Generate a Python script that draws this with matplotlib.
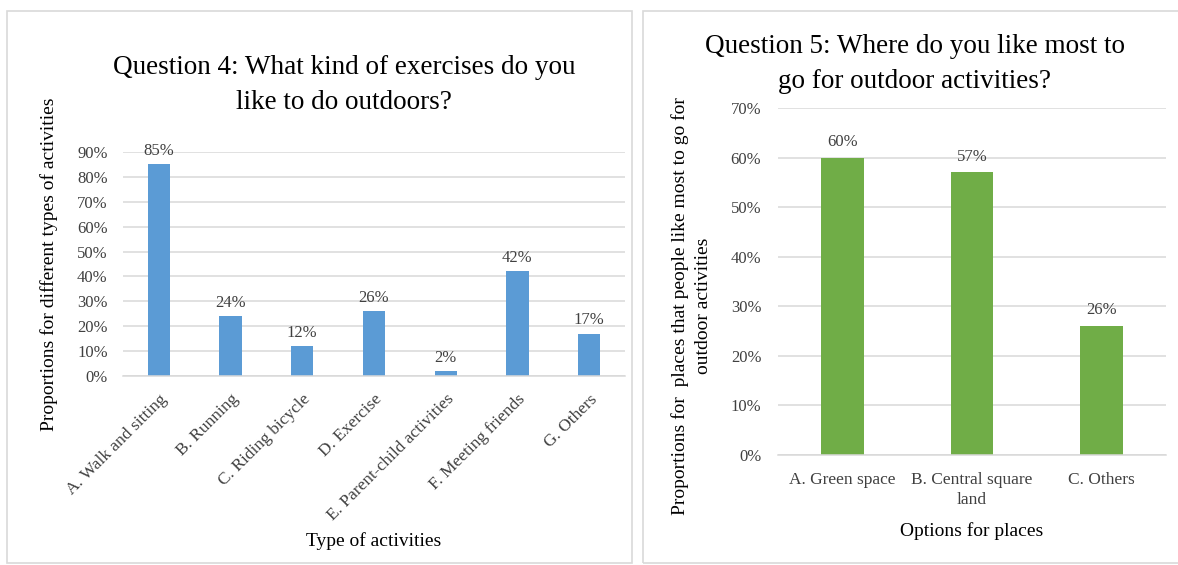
import matplotlib.pyplot as plt
from matplotlib.patches import Rectangle
from matplotlib.ticker import PercentFormatter

plt.rcParams["font.family"] = ["Liberation Serif", "DejaVu Serif"]

activities = ["A. Walk and sitting", "B. Running", "C. Riding bicycle", "D. Exercise",
              "E. Parent-child activities", "F. Meeting friends", "G. Others"]
activity_share = [85, 24, 12, 26, 2, 42, 17]

places = ["A. Green space", "B. Central square\nland", "C. Others"]
place_share = [60, 57, 26]

blue = "#5B9BD5"
green = "#70AD47"
grid_col = "#D9D9D9"
tick_col = "#404040"

fig = plt.figure(figsize=(11.78, 5.65), dpi=100)
W, H = 1178, 565


def frame(x0, y0, x1, y1):
    fig.patches.append(Rectangle((x0 / W, 1 - y1 / H), (x1 - x0) / W, (y1 - y0) / H,
                                 transform=fig.transFigure, fill=False,
                                 edgecolor=grid_col, linewidth=1.2))


def style(ax, top):
    ax.set_ylim(0, top)
    ax.yaxis.set_major_locator(plt.MultipleLocator(10))
    ax.yaxis.set_major_formatter(PercentFormatter(decimals=0))
    ax.grid(axis="y", color=grid_col, linewidth=1.1)
    ax.set_axisbelow(True)
    for s in ["top", "right", "left"]:
        ax.spines[s].set_visible(False)
    ax.spines["bottom"].set_color(grid_col)
    ax.spines["bottom"].set_linewidth(1.1)
    ax.tick_params(length=0, colors=tick_col, labelsize=12)


frame(7, 11, 632, 563)
frame(643, 11, 1185, 563)

# Question 4
ax1 = fig.add_axes([123 / W, 1 - 376 / H, (625 - 123) / W, (376 - 152) / H])
x1 = range(len(activities))
bars1 = ax1.bar(x1, activity_share, width=0.31, color=blue)
style(ax1, 90)
ax1.set_xlim(-0.5, len(activities) - 0.5)
ax1.set_xticks(list(x1))
ax1.set_xticklabels(activities, rotation=45, ha="right", rotation_mode="anchor", fontsize=12.5)
ax1.tick_params(axis="x", pad=11)
ax1.tick_params(axis="y", pad=11)
for b, v in zip(bars1, activity_share):
    ax1.text(b.get_x() + b.get_width() / 2, v + 2.2, f"{v}%", ha="center", va="bottom",
             fontsize=12, color=tick_col)
fig.text(344 / W, 1 - 85 / H, "Question 4: What kind of exercises do you\nlike to do outdoors?",
         ha="center", va="center", fontsize=19.5, linespacing=1.5)
ax1.set_ylabel("Proportions for different types of activities", fontsize=14, labelpad=14)
ax1.set_xlabel("Type of activities", fontsize=14, labelpad=6)

# Question 5
ax2 = fig.add_axes([778 / W, 1 - 455 / H, (1166 - 778) / W, (455 - 108) / H])
x2 = range(len(places))
bars2 = ax2.bar(x2, place_share, width=0.33, color=green)
style(ax2, 70)
ax2.set_xlim(-0.5, len(places) - 0.5)
ax2.set_xticks(list(x2))
ax2.set_xticklabels(places, fontsize=12.5, linespacing=1.35)
ax2.tick_params(axis="x", pad=12)
ax2.tick_params(axis="y", pad=12)
for b, v in zip(bars2, place_share):
    ax2.text(b.get_x() + b.get_width() / 2, v + 1.6, f"{v}%", ha="center", va="bottom",
             fontsize=12, color=tick_col)
fig.text(915 / W, 1 - 64 / H, "Question 5: Where do you like most to\ngo for outdoor activities?",
         ha="center", va="center", fontsize=19.5, linespacing=1.5)
ax2.set_ylabel("Proportions for  places that people like most to go for\noutdoor activities",
               fontsize=14, linespacing=1.5)
ax2.yaxis.set_label_coords(-0.17, 0.43)
ax2.set_xlabel("Options for places", fontsize=14, labelpad=10)

fig.savefig("out.png", dpi=100)
